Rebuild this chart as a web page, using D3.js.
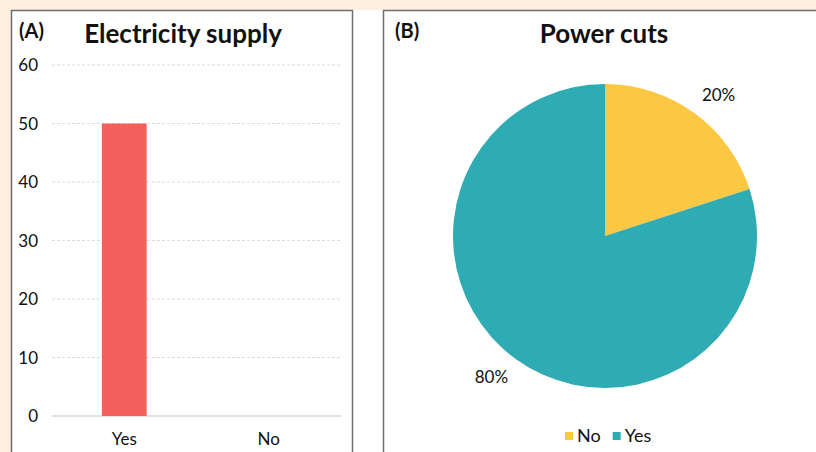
<!DOCTYPE html>
<html>
<head>
<meta charset="utf-8">
<script src="https://cdn.jsdelivr.net/npm/d3@7"></script>
<style>
  body { margin: 0; background: #fff; }
  text { font-family: Lato, "Open Sans", sans-serif; fill: #111; }
</style>
</head>
<body>
<svg id="chart" width="816" height="452"></svg>
<script>
// bar chart data (A)
const supplyCats = ["Yes", "No"]
const supplyVals = [50, 0]
const supplyTicks = [0, 10, 20, 30, 40, 50, 60]

// pie chart data (B)
const cutCats = ["No", "Yes"]
const cutVals = [20, 80]
const cutColors = ["#fcc843", "#2facb3"]

const svg = d3.select("#chart")

// peach strips round the panels
svg.append("rect").attr("x", 0).attr("y", 0).attr("width", 816).attr("height", 10).attr("fill", "#fdeedf")
svg.append("rect").attr("x", 0).attr("y", 0).attr("width", 11).attr("height", 452).attr("fill", "#fdeedf")

// panel frames
svg.append("rect").attr("x", 11.5).attr("y", 10.5).attr("width", 341).attr("height", 460)
  .attr("fill", "#fff").attr("stroke", "#6e6e6e").attr("stroke-width", 1.5)
svg.append("rect").attr("x", 383.5).attr("y", 10.5).attr("width", 460).attr("height", 460)
  .attr("fill", "#fff").attr("stroke", "#6e6e6e").attr("stroke-width", 1.5)

// ---- (A) Electricity supply ----
const a = svg.append("g")

a.append("text").attr("x", 19).attr("y", 38).attr("font-size", 20).attr("font-weight", "bold").text("(A)")
a.append("text").attr("x", 183).attr("y", 43).attr("text-anchor", "middle")
  .attr("font-size", 26).attr("font-weight", "bold").text("Electricity supply")

const x = d3.scaleBand().domain(supplyCats).range([52, 341])
  .paddingInner(0.69).paddingOuter(0.345)
const y = d3.scaleLinear().domain([0, 60]).range([416, 65])

for (const t of supplyTicks) {
  a.append("line")
    .attr("x1", 52).attr("x2", 341)
    .attr("y1", y(t)).attr("y2", y(t))
    .attr("stroke", t === 0 ? "#d9d9d9" : "#dcdcdc")
    .attr("stroke-width", t === 0 ? 1.5 : 1)
    .attr("stroke-dasharray", t === 0 ? null : "3,2")
  a.append("text")
    .attr("x", 38).attr("y", y(t) + 6)
    .attr("text-anchor", "end").attr("font-size", 17)
    .text(t)
}

supplyCats.forEach((c, i) => {
  a.append("rect")
    .attr("x", x(c)).attr("width", x.bandwidth())
    .attr("y", y(supplyVals[i])).attr("height", y(0) - y(supplyVals[i]))
    .attr("fill", "#f4615d")
  a.append("text")
    .attr("x", x(c) + x.bandwidth() / 2).attr("y", 445)
    .attr("text-anchor", "middle").attr("font-size", 17)
    .text(c)
})

// ---- (B) Power cuts ----
const b = svg.append("g")

b.append("text").attr("x", 395).attr("y", 38).attr("font-size", 20).attr("font-weight", "bold").text("(B)")
b.append("text").attr("x", 604).attr("y", 43).attr("text-anchor", "middle")
  .attr("font-size", 26).attr("font-weight", "bold").text("Power cuts")

const cx = 605, cy = 236, r = 152
const pie = d3.pie().sort(null).value(d => d)(cutVals)
const arc = d3.arc().innerRadius(0).outerRadius(r)

const pg = b.append("g").attr("transform", `translate(${cx},${cy})`)
pie.forEach((d, i) => {
  pg.append("path").attr("d", arc(d)).attr("fill", cutColors[i])
  // labels sit just outside the rim, nudged a little clockwise
  const ang = (d.startAngle + d.endAngle) / 2 + 0.05
  const lr = 181
  pg.append("text")
    .attr("x", lr * Math.sin(ang)).attr("y", -lr * Math.cos(ang) + 6)
    .attr("text-anchor", "middle").attr("font-size", 17)
    .text(d3.format(".0%")(d.value / d3.sum(cutVals)))
})

// legend
const lg = b.append("g").attr("transform", "translate(565,442)")
let lx = 0
cutCats.forEach((c, i) => {
  lg.append("rect").attr("x", lx).attr("y", -10).attr("width", 8).attr("height", 8).attr("fill", cutColors[i])
  const t = lg.append("text").attr("x", lx + 12).attr("y", 0).attr("font-size", 18).text(c)
  lx += 12 + t.node().getComputedTextLength() + 12
})
</script>
</body>
</html>
